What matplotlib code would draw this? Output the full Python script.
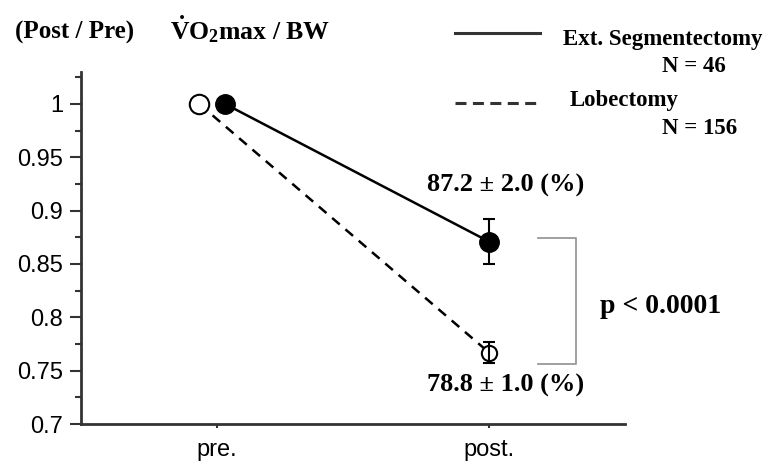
import matplotlib
matplotlib.use("Agg")
import matplotlib.pyplot as plt
from matplotlib.ticker import MultipleLocator

plt.rcParams['mathtext.fontset'] = 'custom'
plt.rcParams['mathtext.rm'] = 'Liberation Serif:bold'
plt.rcParams['mathtext.bf'] = 'Liberation Serif:bold'
plt.rcParams['mathtext.it'] = 'Liberation Serif:bold:italic'

# данные
groups = ['pre.', 'post.']
seg_x = [1.03, 2.0]
seg_y = [1.0, 0.871]
seg_err = [0.0, 0.021]
lob_x = [0.935, 2.0]
lob_y = [1.0, 0.767]
lob_err = [0.0, 0.01]
seg_label = 'Ext. Segmentectomy'
lob_label = 'Lobectomy'
seg_n = 'N = 46'
lob_n = 'N = 156'
seg_text = '87.2 ± 2.0 (%)'
lob_text = '78.8 ± 1.0 (%)'
p_text = 'p < 0.0001'

W, H = 768, 469
fig = plt.figure(figsize=(W / 100, H / 100), dpi=100)
ax = fig.add_axes([81 / W, 1 - 424 / H, (625 - 81) / W, (424 - 72) / H])

serif = dict(family='Liberation Serif', weight='bold')

# линии
ax.plot(lob_x, lob_y, color='black', lw=1.8, ls=(0, (4, 3)), zorder=2)
ax.plot(seg_x, seg_y, color='black', lw=1.8, zorder=2)
ax.plot(lob_x[:1], lob_y[:1], 'o', mfc='white', mec='black', mew=1.5, ms=14, zorder=4)
ax.plot(lob_x[1:], lob_y[1:], 'o', mfc='white', mec='black', mew=1.5, ms=11, zorder=4)
ax.errorbar(lob_x[1:], lob_y[1:], yerr=lob_err[1:], fmt='none', ecolor='black',
            elinewidth=1.5, capsize=4, capthick=1.5, zorder=5)
ax.errorbar(seg_x[1:], seg_y[1:], yerr=seg_err[1:], fmt='none', ecolor='black',
            elinewidth=1.5, capsize=4, capthick=1.5, zorder=3)
ax.plot(seg_x, seg_y, 'o', mfc='black', mec='black', ms=14, zorder=5)

ax.set_xlim(0.5, 2.5)
ax.set_ylim(0.7, 1.03)
ax.set_xticks([1, 2])
ax.set_xticklabels(groups, family='Liberation Sans', fontsize=17)
ax.yaxis.set_major_locator(MultipleLocator(0.05))
ax.yaxis.set_minor_locator(MultipleLocator(0.025))
ax.set_yticks([0.7, 0.75, 0.8, 0.85, 0.9, 0.95, 1.0])
ax.set_yticklabels(['0.7', '0.75', '0.8', '0.85', '0.9', '0.95', '1'],
                   family='Liberation Sans', fontsize=17)
ax.tick_params(axis='y', which='major', length=8, width=1.5, color='#333333', pad=5)
ax.tick_params(axis='y', which='minor', length=4, width=1.5, color='#333333')
ax.tick_params(axis='x', length=3, width=1.5, color='#333333', pad=8)

for s in ['top', 'right']:
    ax.spines[s].set_visible(False)
for s in ['left', 'bottom']:
    ax.spines[s].set_linewidth(2)
    ax.spines[s].set_color('#333333')

# подписи
ax.text(2.06, 0.924, seg_text, ha='center', va='center', fontsize=19, **serif)
ax.text(2.06, 0.7365, lob_text, ha='center', va='center', fontsize=19, **serif)
ax.text(2.63, 0.81, p_text, ha='center', va='center', fontsize=20, clip_on=False, **serif)

# скобка
bx0, bx1 = 2.18, 2.32
ax.plot([bx0, bx1, bx1, bx0], [0.8745, 0.8745, 0.756, 0.756], color='#999999',
        lw=1.3, clip_on=False)

# заголовок
fig.text(15 / W, 1 - 39 / H, '(Post / Pre)', fontsize=18, ha='left', va='baseline', **serif)
fig.text(170 / W, 1 - 39 / H, r'$\dot{\mathrm{V}}\mathrm{O}_{2}$max / BW',
         fontsize=18.5, ha='left', va='baseline', **serif)

# легенда
fig.add_artist(plt.Line2D([455 / W, 540 / W], [1 - 33 / H] * 2, color='#333333', lw=2.2))
fig.add_artist(plt.Line2D([455 / W, 540 / W], [1 - 103 / H] * 2, color='#333333', lw=2.2,
                          ls=(0, (3.6, 2.1))))
fig.text(563 / W, 1 - 39 / H, seg_label, fontsize=16.5, ha='left', va='center', **serif)
fig.text(662 / W, 1 - 67 / H, seg_n, fontsize=16.5, ha='left', va='center', **serif)
fig.text(570 / W, 1 - 100 / H, lob_label, fontsize=16.5, ha='left', va='center', **serif)
fig.text(662 / W, 1 - 128 / H, lob_n, fontsize=16.5, ha='left', va='center', **serif)

fig.savefig('out.png', dpi=100)
